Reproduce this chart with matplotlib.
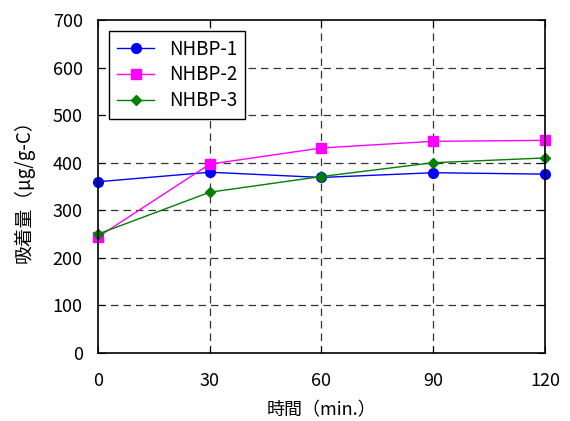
import matplotlib
matplotlib.use("Agg")
import matplotlib.pyplot as plt

plt.rcParams['font.family'] = ['Noto Sans CJK JP', 'DejaVu Sans']

time = [0, 30, 60, 90, 120]
nhbp1 = [360, 380, 369, 379, 376]
nhbp2 = [244, 397, 431, 445, 447]
nhbp3 = [250, 338, 371, 400, 410]
labels = ['NHBP-1', 'NHBP-2', 'NHBP-3']

fig = plt.figure(figsize=(5.7, 4.21), dpi=100)
ax = fig.add_axes([0.172, 0.1615, 0.784, 0.791])

ax.plot(time, nhbp1, color='#0000ff', marker='o', markersize=7, linewidth=1, label=labels[0], zorder=3, clip_on=False)
ax.plot(time, nhbp2, color='#ff00ff', marker='s', markersize=7, linewidth=1, label=labels[1], zorder=3, clip_on=False)
ax.plot(time, nhbp3, color='#008000', marker='D', markersize=5.5, linewidth=1, label=labels[2], zorder=3, clip_on=False)

ax.set_xlim(0, 120)
ax.set_ylim(0, 700)
ax.set_xticks(time)
ax.set_yticks(range(0, 701, 100))
ax.grid(True, color='#333333', linestyle=(0, (6, 4)), linewidth=0.9)
ax.set_axisbelow(True)
for t in (ax.xaxis.get_major_ticks()[0], ax.xaxis.get_major_ticks()[-1],
          ax.yaxis.get_major_ticks()[0], ax.yaxis.get_major_ticks()[-1]):
    t.gridline.set_visible(False)
ax.tick_params(direction='in', labelsize=13, length=5, top=True, right=True)
ax.tick_params(axis='x', pad=14)
ax.tick_params(axis='y', pad=11)
for s in ax.spines.values():
    s.set_linewidth(1.2)
    s.set_zorder(4)

ax.set_xlabel('時間（min.）', fontsize=13, labelpad=8)
ax.set_ylabel('吸着量（μg/g-C）', fontsize=13.5, labelpad=13)

leg = ax.legend(loc='upper left', fontsize=13.5, fancybox=False, framealpha=1,
                edgecolor='black', borderaxespad=0.6, handlelength=2.0,
                labelspacing=0.25, borderpad=0.4)
leg.get_frame().set_linewidth(1)
leg.set_zorder(5)

fig.savefig('out.png', dpi=100)
